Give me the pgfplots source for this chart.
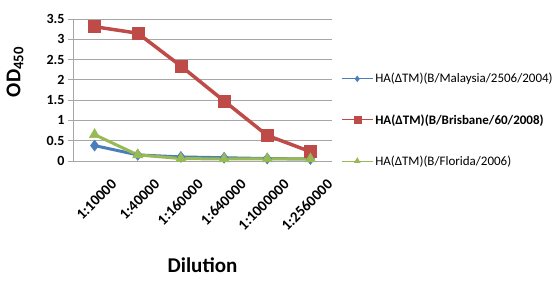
\documentclass[border=0pt]{standalone}
\usepackage{pgfplots}
\pgfplotsset{compat=1.18}
\usepackage{fontspec}
\setmainfont{Carlito}
\definecolor{xblue}{HTML}{4A7EBB}
\definecolor{xred}{HTML}{BE4B48}
\definecolor{xgreen}{HTML}{98B954}
\definecolor{xgrid}{HTML}{A6A6A6}
\begin{document}
\begin{tikzpicture}[x=1pt,y=1pt]
\path[use as bounding box] (0,0) rectangle (559,283);
\begin{axis}[
  at={(73pt,122pt)}, anchor=south west,
  scale only axis, width=259pt, height=142pt,
  xmin=-0.5, xmax=5.5, ymin=0, ymax=3.5,
  xtick={0,1,2,3,4,5},
  xticklabels={1:10000,1:40000,1:160000,1:640000,1:1000000,1:2560000},
  ytick={0,0.5,1,1.5,2,2.5,3,3.5},
  yticklabels={0,0.5,1,1.5,2,2.5,3,3.5},
  axis x line=bottom, axis y line=left,
  axis line style={-, draw=xgrid, line width=0.8pt},
  ymajorgrids, grid style={draw=xgrid, line width=0.8pt},
  tick align=outside,
  xtick style={draw=none},
  ytick style={draw=xgrid, line width=0.8pt},
  major tick length=5pt,
  yticklabel style={font=\bfseries\fontsize{14}{14}\selectfont, text=black},
  xticklabel style={font=\bfseries\fontsize{15}{15}\selectfont, text=black, rotate=45, anchor=east, xshift=6pt, yshift=-25pt},
  xlabel={Dilution},
  xlabel style={font=\bfseries\fontsize{21}{21}\selectfont, at={(axis description cs:0.5,-0.732)}, anchor=center},
  ylabel={OD\textsubscript{450}},
  ylabel style={font=\bfseries\fontsize{21}{21}\selectfont, at={(axis description cs:-0.224,0.627)}, anchor=center},
  clip=false,
  legend style={at={(axis description cs:1.035,0.289)}, anchor=west, draw=none, fill=none,
    font=\fontsize{13}{13}\selectfont, row sep=26pt, inner sep=0pt,
    legend cell align=left},
  legend image code/.code={\draw[mark repeat=2,mark phase=2,#1] plot coordinates {(0pt,0pt) (15.5pt,0pt) (31pt,0pt)};},
]
\addplot[forget plot, xblue, line width=3pt, mark=diamond*, mark size=5.5pt, mark options={solid, line width=0.5pt}]
  coordinates {(0,0.38) (1,0.15) (2,0.10) (3,0.08) (4,0.06) (5,0.05)};
\addplot[forget plot, xred, line width=3.5pt, mark=square*, mark size=6pt, mark options={solid, line width=0.5pt}]
  coordinates {(0,3.31) (1,3.15) (2,2.34) (3,1.48) (4,0.63) (5,0.23)};
\addplot[forget plot, xgreen, line width=3pt, mark=triangle*, mark size=6pt, mark options={solid, line width=0.5pt}]
  coordinates {(0,0.65) (1,0.15) (2,0.06) (3,0.05) (4,0.05) (5,0.05)};
\addlegendimage{xblue, line width=1pt, mark=diamond*, mark size=3pt, mark options={line width=0.3pt}}
\addlegendentry{HA(ΔTM)(B/Malaysia/2506/2004)}
\addlegendimage{xred, line width=1pt, mark=square*, mark size=3.5pt, mark options={line width=0.3pt}}
\addlegendentry{\textbf{HA(ΔTM)(B/Brisbane/60/2008)}}
\addlegendimage{xgreen, line width=1pt, mark=triangle*, mark size=3.5pt, mark options={line width=0.3pt}}
\addlegendentry{HA(ΔTM)(B/Florida/2006)}
\end{axis}
\end{tikzpicture}
\end{document}
